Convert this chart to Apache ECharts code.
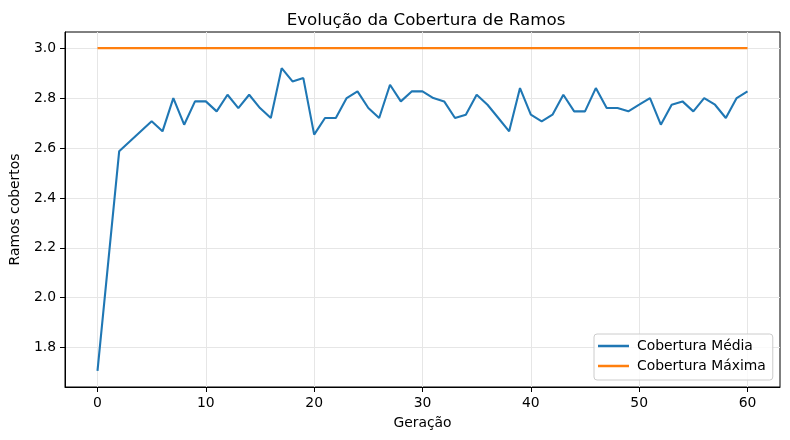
<!DOCTYPE html>
<html>
<head>
<meta charset="utf-8">
<script src="https://cdn.jsdelivr.net/npm/echarts@6/dist/echarts.min.js"></script>
<style>
html,body{margin:0;padding:0;background:#fff;}
#chart{width:790px;height:440px;}
</style>
</head>
<body>
<div id="chart"></div>
<script>
const generations = [0,1,2,3,4,5,6,7,8,9,10,11,12,13,14,15,16,17,18,19,20,21,22,23,24,25,26,27,28,29,30,31,32,33,34,35,36,37,38,39,40,41,42,43,44,45,46,47,48,49,50,51,52,53,54,55,56,57,58,59,60];
const coberturaMedia = [1.7067,2.1467,2.5867,2.6267,2.6667,2.7067,2.6667,2.80,2.6933,2.7867,2.7867,2.7467,2.8133,2.76,2.8133,2.76,2.72,2.92,2.8667,2.88,2.6533,2.72,2.72,2.80,2.8267,2.76,2.72,2.8533,2.7867,2.8267,2.8267,2.80,2.7867,2.72,2.7333,2.8133,2.7733,2.72,2.6667,2.84,2.7333,2.7067,2.7333,2.8133,2.7467,2.7467,2.84,2.76,2.76,2.7467,2.7733,2.80,2.6933,2.7733,2.7867,2.7467,2.80,2.7733,2.72,2.80,2.8267];
const coberturaMaxima = [3,3,3,3,3,3,3,3,3,3,3,3,3,3,3,3,3,3,3,3,3,3,3,3,3,3,3,3,3,3,3,3,3,3,3,3,3,3,3,3,3,3,3,3,3,3,3,3,3,3,3,3,3,3,3,3,3,3,3,3,3];
const xTicks = [0,10,20,30,40,50,60];
const yTicks = [1.8,2.0,2.2,2.4,2.6,2.8,3.0];
const seriesNames = ['Cobertura Média','Cobertura Máxima'];
const titleText = 'Evolução da Cobertura de Ramos';
const xLabel = 'Geração';
const yLabel = 'Ramos cobertos';

const font = 'DejaVu Sans';
const chart = echarts.init(document.getElementById('chart'), null, {renderer:'canvas'});
const gridLine = {show:true, lineStyle:{color:'#e6e6e6', width:1}};
chart.setOption({
  animation:false,
  backgroundColor:'#fff',
  title:{text:titleText, left:421, top:7, textAlign:'center',
    textStyle:{fontFamily:font, fontSize:16.7, fontWeight:'normal', color:'#000'}},
  grid:{left:61, top:32, right:10, bottom:53, show:true, borderColor:'#000', borderWidth:1, backgroundColor:'transparent'},
  legend:{
    orient:'vertical', left:594, top:334,
    data:seriesNames.map(n=>({name:n, icon:'rect'})),
    itemWidth:31, itemHeight:2.5, itemGap:6,
    padding:[5,7,7,4],
    backgroundColor:'rgba(255,255,255,0.8)', borderColor:'#cccccc', borderWidth:1, borderRadius:3,
    textStyle:{fontFamily:font, fontSize:13.9, color:'#000', padding:[0,0,0,3]}
  },
  xAxis:{
    type:'value', min:-3, max:63,
    name:xLabel, nameLocation:'middle', nameGap:29,
    nameTextStyle:{fontFamily:font, fontSize:13.9, color:'#000'},
    axisLine:{show:true, onZero:false, lineStyle:{color:'#000', width:1}},
    axisTick:{show:true, inside:false, length:5, customValues:xTicks, lineStyle:{color:'#000'}},
    axisLabel:{customValues:xTicks, margin:9, fontFamily:font, fontSize:13.9, color:'#000'},
    splitLine:gridLine
  },
  yAxis:{
    type:'value', min:1.6423, max:3.0647,
    name:yLabel, nameLocation:'middle', nameGap:43, nameRotate:90,
    nameTextStyle:{fontFamily:font, fontSize:13.9, color:'#000'},
    axisLine:{show:true, onZero:false, lineStyle:{color:'#000', width:1}},
    axisTick:{show:true, inside:false, length:5, customValues:yTicks, lineStyle:{color:'#000'}},
    axisLabel:{customValues:yTicks, margin:9, fontFamily:font, fontSize:13.9, color:'#000', formatter:v=>v.toFixed(1)},
    splitLine:gridLine
  },
  series:[
    {name:seriesNames[0], type:'line', data:generations.map((g,i)=>[g,coberturaMedia[i]]),
      showSymbol:false, symbol:'none', color:'#1f77b4', lineStyle:{color:'#1f77b4', width:2.1}, z:2},
    {name:seriesNames[1], type:'line', data:generations.map((g,i)=>[g,coberturaMaxima[i]]),
      showSymbol:false, symbol:'none', color:'#ff7f0e', lineStyle:{color:'#ff7f0e', width:2.1}, z:3}
  ]
});
</script>
</body>
</html>
